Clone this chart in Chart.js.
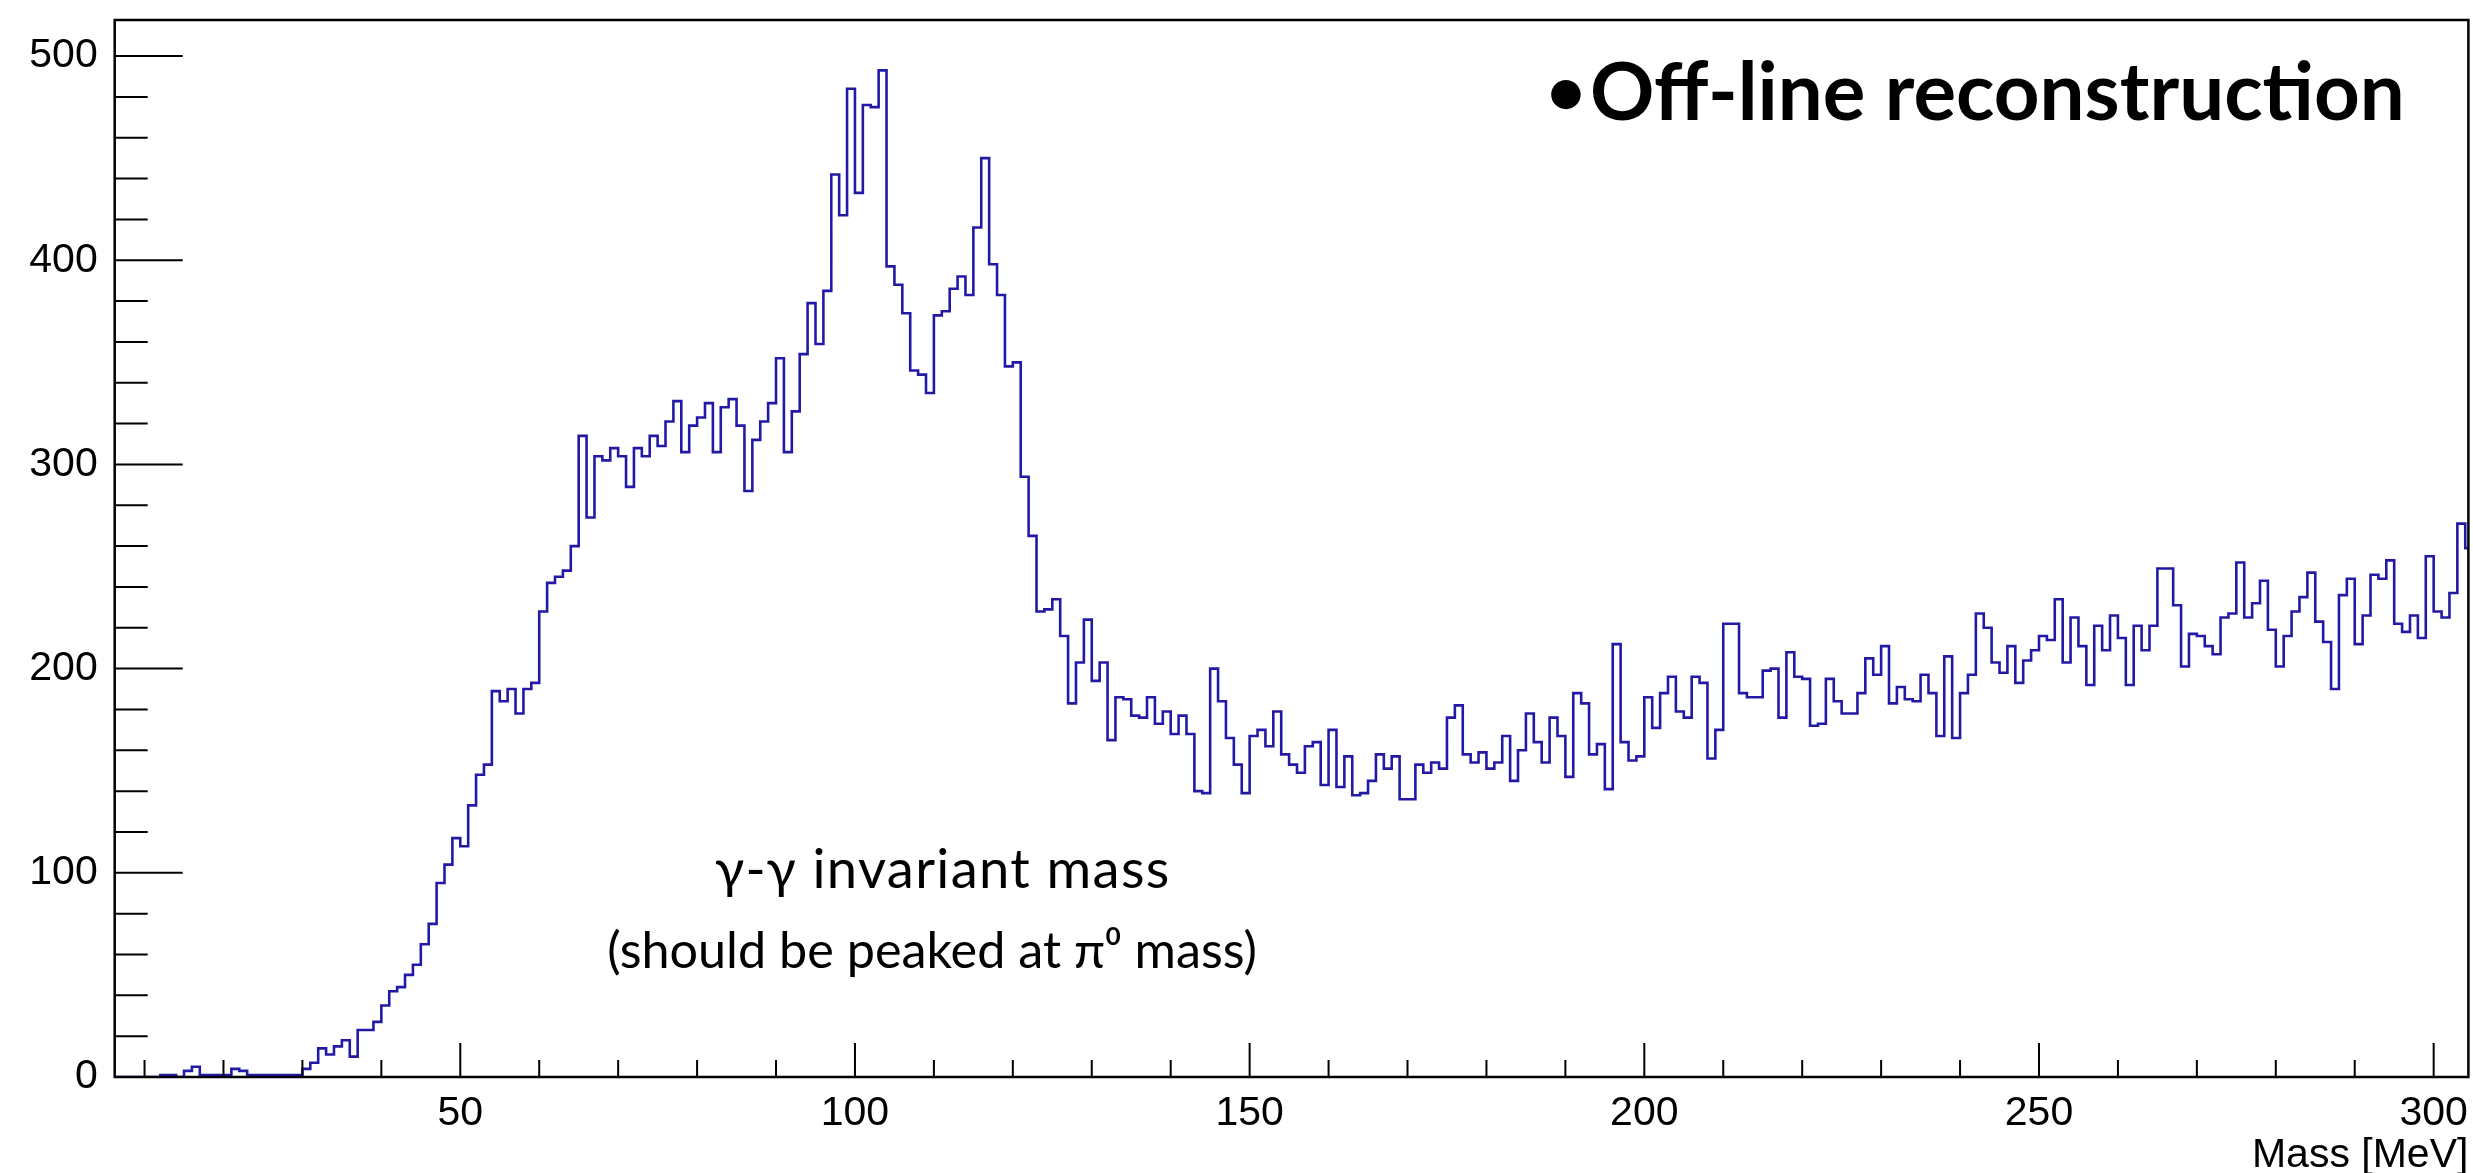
<!DOCTYPE html>
<html>
<head>
<meta charset="utf-8">
<title>Massa invariante gama-gama</title>
<script src="https://cdn.jsdelivr.net/npm/chart.js@4.4.1/dist/chart.umd.min.js"></script>
<style>
    html, body { margin: 0; padding: 0; background: #ffffff; }
</style>
</head>
<body>
<canvas id="chartMassa" width="2473" height="1173"></canvas>
<script>
// histograma: bins de 1 MeV, primeiro bin comeca em 6 MeV
const primeiroBin = 6;
const larguraBin = 1;

const contagens006a049 = [
    0, 0, 0, 0, 0, 0,
    1, 1, 0, 3, 5, 1, 1, 1, 1, 4, 3, 1, 1, 1, 1, 1, 1, 1,
    4, 7, 14, 11, 15, 18, 10, 23, 23, 27, 35, 42, 44, 50, 55, 65, 75, 95, 104, 117
];
const contagens050a099 = [
    113, 133, 148, 153, 189, 184, 190, 178, 190, 193,
    228, 242, 245, 248, 260, 314, 274, 304, 302, 308,
    304, 289, 308, 304, 314, 309, 321, 331, 306, 319,
    323, 330, 306, 328, 332, 319, 287, 312, 321, 330,
    352, 306, 326, 354, 379, 359, 385, 442, 422, 484
];
const contagens100a149 = [
    433, 476, 475, 493, 397, 388, 374, 346, 344, 335,
    373, 375, 386, 392, 383, 416, 450, 398, 383, 348,
    350, 294, 265, 228, 229, 234, 216, 183, 203, 224,
    194, 203, 165, 186, 185, 177, 176, 186, 173, 179,
    168, 177, 168, 140, 139, 200, 184, 166, 153, 139
];
const contagens150a199 = [
    167, 170, 162, 179, 158, 153, 149, 162, 164, 143,
    170, 142, 157, 138, 139, 145, 158, 151, 157, 136,
    136, 153, 149, 154, 151, 176, 182, 158, 154, 159,
    151, 154, 167, 145, 160, 178, 164, 154, 176, 167,
    147, 188, 183, 158, 163, 141, 212, 164, 155, 157
];
const contagens200a249 = [
    186, 171, 188, 196, 179, 176, 196, 193, 156, 170,
    222, 222, 188, 186, 186, 199, 200, 176, 208, 196,
    195, 172, 173, 195, 184, 178, 178, 188, 205, 197,
    211, 183, 191, 185, 184, 197, 188, 167, 206, 166,
    188, 197, 227, 220, 203, 198, 211, 193, 204, 209
];
const contagens250a304 = [
    216, 214, 234, 203, 225, 211, 192, 221, 209, 226,
    215, 192, 221, 209, 221, 249, 249, 231, 201, 217,
    216, 211, 207, 225, 227, 252, 225, 232, 243, 219,
    201, 216, 228, 235, 247, 223, 213, 190, 236, 244,
    212, 226, 246, 244, 253, 222, 218, 226, 215, 255,
    228, 225, 237, 271, 259
];

const ticksX = [50, 100, 150, 200, 250, 300];
const ticksY = [0, 100, 200, 300, 400, 500];

const limiteX = { min: 6.22, max: 304.4 };
const limiteY = { min: 0, max: 517.65 };

const textoTitulo = 'Off-line reconstruction';
const textoLinha1 = '\u03B3-\u03B3 invariant mass';
const textoLinha2 = '(should be peaked at \u03C0\u2070 mass)';

const corHist = 'rgb(34, 26, 165)';
const fonteEixo = 'Liberation Sans, Arial, sans-serif';
const fonteTexto = 'Lato, "Open Sans", sans-serif';

let contagens = [].concat(contagens006a049, contagens050a099, contagens100a149,
    contagens150a199, contagens200a249, contagens250a304);

let pontosHist = contagens.map((c, i) => ({ x: primeiroBin + i * larguraBin, y: c }));
pontosHist.push({ x: primeiroBin + contagens.length * larguraBin, y: contagens[contagens.length - 1] });

// acha o tamanho de fonte que faz o texto ocupar a largura pedida
function tamanhoParaLargura(ctx, peso, familia, texto, largura){
    ctx.font = `${peso} 100px ${familia}`;
    let w = ctx.measureText(texto).width;
    return 100 * largura / w;
}

// moldura e ticks para dentro, estilo ROOT
const molduraRoot = {
    id: 'molduraRoot',
    afterDatasetsDraw(chart){
        const { ctx, chartArea: a, scales: { x, y } } = chart;
        ctx.save();
        ctx.strokeStyle = '#000';
        ctx.lineWidth = 2.5;
        ctx.strokeRect(a.left, a.top, a.right - a.left, a.bottom - a.top);

        ctx.lineWidth = 2;
        ctx.beginPath();
        for (let v = 10; v <= x.max; v += 10) {
            let px = x.getPixelForValue(v);
            let len = v % 50 === 0 ? 34 : 17;
            ctx.moveTo(px, a.bottom);
            ctx.lineTo(px, a.bottom - len);
        }
        for (let v = 0; v <= y.max; v += 20) {
            let py = y.getPixelForValue(v);
            let len = v % 100 === 0 ? 68 : 33;
            ctx.moveTo(a.left, py);
            ctx.lineTo(a.left + len, py);
        }
        ctx.stroke();
        ctx.restore();
    }
};

const anotacoes = {
    id: 'anotacoes',
    afterDraw(chart){
        const ctx = chart.ctx;
        ctx.save();
        ctx.fillStyle = '#000';
        ctx.textBaseline = 'alphabetic';

        // titulo com marcador
        let tam = tamanhoParaLargura(ctx, 'bold', fonteTexto, textoTitulo, 815);
        ctx.font = `bold ${tam}px ${fonteTexto}`;
        ctx.textAlign = 'left';
        ctx.fillText(textoTitulo, 1590, 120);
        ctx.font = `bold ${tam * 0.85}px ${fonteTexto}`;
        ctx.textAlign = 'center';
        ctx.textBaseline = 'middle';
        ctx.fillText('\u2022', 1566, 92);

        // legenda do pico
        ctx.textBaseline = 'alphabetic';
        let tam2 = tamanhoParaLargura(ctx, 'normal', fonteTexto, textoLinha2, 650);
        ctx.font = `normal ${tam2}px ${fonteTexto}`;
        ctx.fillText(textoLinha2, 932, 968);

        ctx.font = `normal ${tam2 * 1.08}px ${fonteTexto}`;
        let w1 = ctx.measureText(textoLinha1).width;
        let extra = Math.max((456 - w1) / textoLinha1.length, 0);
        ctx.letterSpacing = `${extra}px`;
        ctx.fillText(textoLinha1, 942 + extra / 2, 888);
        ctx.restore();
    }
};

new Chart(document.getElementById('chartMassa'), {
    type: 'line',
    data: {
        datasets: [
            {
                label: 'Massa',
                data: pontosHist,
                borderColor: corHist,
                borderWidth: 2.6,
                stepped: 'before',
                pointRadius: 0,
                fill: false
            }
        ]
    },
    options: {
        responsive: false,
        animation: false,
        devicePixelRatio: 1,
        layout: {
            padding: { top: 20, right: 4.6, bottom: 0, left: 0 }
        },
        plugins: {
            legend: { display: false },
            tooltip: { enabled: false }
        },
        scales: {
            x: {
                type: 'linear',
                min: limiteX.min,
                max: limiteX.max,
                grid: { display: false, drawTicks: false },
                border: { display: false },
                afterBuildTicks: (s) => { s.ticks = ticksX.map(v => ({ value: v })); },
                afterFit: (s) => {
                    s.height = 96;
                    s.paddingLeft = 0;
                    s.paddingRight = 0;
                },
                ticks: {
                    padding: 12,
                    autoSkip: false,
                    maxRotation: 0,
                    color: '#000',
                    font: { family: fonteEixo, size: 41 }
                },
                title: {
                    display: true,
                    text: 'Mass [MeV]',
                    align: 'end',
                    color: '#000',
                    font: { family: fonteEixo, size: 41, lineHeight: 1 },
                    padding: { top: 0, bottom: -3 }
                }
            },
            y: {
                type: 'linear',
                min: limiteY.min,
                max: limiteY.max,
                grid: { display: false, drawTicks: false },
                border: { display: false },
                afterBuildTicks: (s) => { s.ticks = ticksY.map(v => ({ value: v })); },
                afterFit: (s) => {
                    s.width = 114.7;
                    s.paddingTop = 0;
                    s.paddingBottom = 0;
                },
                ticks: {
                    padding: 17,
                    color: '#000',
                    font: { family: fonteEixo, size: 41 }
                }
            }
        }
    },
    plugins: [molduraRoot, anotacoes]
});
</script>
</body>
</html>
